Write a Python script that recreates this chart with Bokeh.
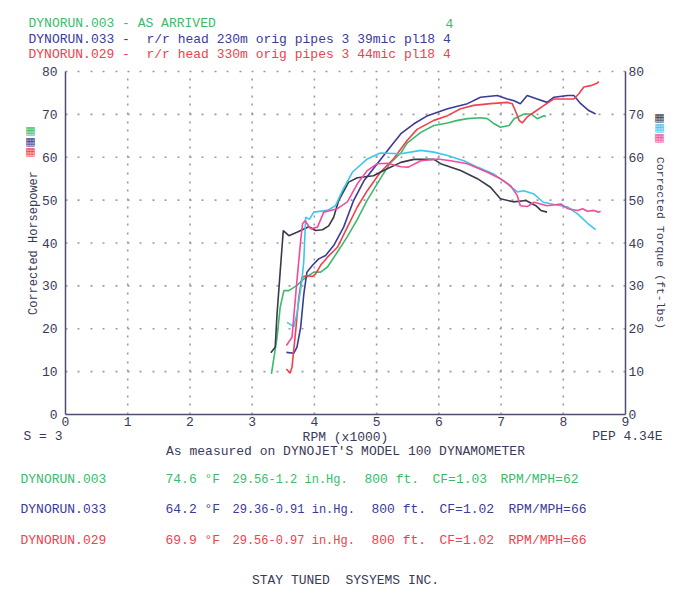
from bokeh.plotting import figure
from bokeh.models import Range1d, LinearAxis, FixedTicker, Label
from bokeh.embed import file_html
from bokeh.resources import INLINE

# ---------------- data (rpm x1000, value) ----------------
rpm_ticks = [0, 1, 2, 3, 4, 5, 6, 7, 8, 9]
val_ticks = [0, 10, 20, 30, 40, 50, 60, 70, 80]

# Horsepower curves
hp003_rpm = [3.31, 3.40, 3.45, 3.51, 3.59, 3.72, 3.83, 3.99, 4.10, 4.21, 4.37, 4.53, 4.69, 4.85,
             5.06, 5.22, 5.39, 5.49, 5.71, 5.92, 6.14, 6.30, 6.46, 6.67, 6.78, 6.89, 6.99, 7.13,
             7.21, 7.37, 7.48, 7.58, 7.69, 7.72]
hp003_val = [9.5, 18.0, 25.0, 28.9, 28.9, 30.1, 31.6, 33.2, 33.2, 34.4, 37.9, 41.5, 45.5, 50.0,
             55.0, 58.7, 61.0, 63.3, 65.8, 67.4, 68.0, 68.6, 69.0, 69.2, 69.0, 67.8, 67.0, 67.4,
             69.0, 70.1, 70.1, 69.0, 69.7, 69.5]

hp033_rpm = [3.55, 3.67, 3.72, 3.78, 3.83, 3.88, 3.97, 4.07, 4.18, 4.31, 4.47, 4.63, 4.80, 5.01,
             5.22, 5.39, 5.60, 5.82, 6.14, 6.46, 6.67, 6.94, 7.10, 7.21, 7.31, 7.42, 7.58, 7.74,
             7.85, 8.07, 8.17, 8.28, 8.41, 8.52]
hp033_val = [14.5, 14.3, 15.7, 20.4, 28.1, 33.2, 34.8, 36.3, 37.1, 39.4, 43.7, 49.9, 54.6, 58.5,
             62.4, 65.5, 67.8, 69.7, 71.3, 72.5, 74.0, 74.4, 73.6, 73.2, 72.5, 74.4, 73.6, 72.8,
             74.0, 74.4, 74.4, 72.5, 70.9, 70.1]

hp029_rpm = [3.55, 3.61, 3.64, 3.70, 3.75, 3.80, 3.88, 3.97, 4.02, 4.10, 4.21, 4.37, 4.53, 4.69,
             4.85, 5.06, 5.27, 5.49, 5.65, 5.92, 6.14, 6.35, 6.56, 6.83, 7.10, 7.18, 7.24, 7.29,
             7.34, 7.42, 7.53, 7.69, 7.85, 8.01, 8.17, 8.25, 8.33, 8.44, 8.55, 8.57]
hp029_val = [10.6, 9.6, 11.0, 19.6, 27.4, 32.0, 32.4, 32.2, 32.8, 34.8, 36.7, 39.0, 43.7, 48.4,
             52.2, 56.5, 59.6, 63.9, 66.5, 68.6, 69.7, 71.3, 72.1, 72.5, 72.8, 72.5, 70.5, 68.6,
             68.0, 69.4, 70.5, 72.1, 73.6, 73.6, 73.6, 74.8, 76.4, 76.7, 77.3, 77.7]

# Torque curves
tq003_rpm = [3.30, 3.37, 3.40, 3.46, 3.50, 3.59, 3.72, 3.91, 4.02, 4.13, 4.23, 4.31, 4.39, 4.55,
             4.69, 4.95, 5.17, 5.39, 5.60, 5.92, 6.03, 6.35, 6.62, 6.83, 6.99, 7.20, 7.40, 7.56,
             7.64, 7.74]
tq003_val = [14.4, 15.7, 23.5, 35.2, 42.9, 41.7, 42.5, 43.8, 42.9, 43.1, 44.0, 46.0, 49.9, 54.2,
             55.2, 55.7, 57.3, 58.8, 59.5, 59.5, 58.5, 56.9, 55.0, 53.0, 50.3, 49.6, 49.9, 48.7,
             47.6, 47.2]

tq033_rpm = [3.56, 3.67, 3.72, 3.80, 3.83, 3.86, 3.92, 3.99, 4.21, 4.34, 4.45, 4.61, 4.85, 5.06,
             5.39, 5.71, 5.92, 6.14, 6.40, 6.62, 6.88, 7.10, 7.26, 7.36, 7.52, 7.68, 7.85, 8.07,
             8.23, 8.39, 8.52]
tq033_val = [21.5, 20.5, 23.5, 31.3, 35.9, 46.0, 45.5, 47.2, 47.6, 48.7, 52.2, 56.5, 59.6, 61.0,
             60.8, 61.6, 61.2, 60.4, 59.2, 57.7, 56.1, 53.8, 51.9, 52.2, 51.5, 49.5, 49.0, 48.4,
             46.8, 44.6, 43.1]

tq029_rpm = [3.55, 3.64, 3.72, 3.78, 3.81, 3.85, 3.94, 4.05, 4.15, 4.37, 4.53, 4.69, 4.85, 5.01,
             5.17, 5.39, 5.51, 5.71, 5.98, 6.19, 6.46, 6.78, 6.99, 7.15, 7.26, 7.31, 7.42, 7.53,
             7.74, 7.96, 8.07, 8.23, 8.31, 8.39, 8.49, 8.57, 8.60]
tq029_val = [16.1, 18.0, 31.3, 40.6, 44.5, 45.2, 43.3, 43.7, 47.2, 48.0, 49.6, 53.8, 56.9, 58.5,
             58.6, 57.8, 57.7, 59.2, 59.6, 59.2, 58.5, 56.5, 55.0, 53.4, 51.1, 48.7, 48.5, 49.5,
             48.7, 49.1, 48.0, 47.6, 48.0, 47.4, 47.6, 47.2, 47.4]

# ---------------- styling ----------------
GREEN = "#3cba6c"
BLUE = "#3b3b98"
RED = "#f2404e"
DARK = "#3a3a4c"
CYAN = "#3cc6f0"
PINK = "#f04c9c"
INK = "#3a3a58"
AXIS = "#4e4e6e"
GRIDC = "#9a9aa8"
MONO = "Liberation Mono"

W, H = 683, 604
# pixel position of the plotting area inside the page
PL, PR, PT, PB = 65, 625, 71, 414
XMIN, XMAX = rpm_ticks[0], rpm_ticks[-1]
YMIN, YMAX = val_ticks[0], val_ticks[-1]
SX = (XMAX - XMIN) / (PR - PL)
SY = (YMAX - YMIN) / (PB - PT)
x_start, x_end = XMIN - PL * SX, XMAX + (W - PR) * SX
y_start, y_end = YMIN - (H - PB) * SY, YMAX + PT * SY

p = figure(width=W, height=H, x_range=Range1d(x_start, x_end), y_range=Range1d(y_start, y_end),
           x_axis_type=None, y_axis_type=None, output_backend="svg", toolbar_location=None,
           min_border=0)
p.extra_y_ranges = {"torque": Range1d(y_start, y_end)}
p.outline_line_color = None
p.background_fill_color = "white"
p.border_fill_color = "white"
p.xgrid.visible = False
p.ygrid.visible = False


def style_axis(ax, label_size="13px"):
    ax.axis_line_color = AXIS
    ax.axis_line_width = 1.5
    ax.major_tick_line_color = None
    ax.minor_tick_line_color = None
    ax.major_tick_out = 0
    ax.major_tick_in = 0
    ax.minor_tick_out = 0
    ax.minor_tick_in = 0
    ax.major_label_text_font = MONO
    ax.major_label_text_font_size = "13px"
    ax.major_label_text_color = INK
    ax.axis_label_text_font = MONO
    ax.axis_label_text_font_size = label_size
    ax.axis_label_text_font_style = "normal"
    ax.axis_label_text_color = INK


left_ax = LinearAxis(fixed_location=XMIN, bounds=(YMIN, YMAX), ticker=FixedTicker(ticks=val_ticks),
                     axis_label="Corrected Horsepower", major_label_standoff=8, axis_label_standoff=-2)
right_ax = LinearAxis(fixed_location=XMAX, bounds=(YMIN, YMAX), ticker=FixedTicker(ticks=val_ticks),
                      y_range_name="torque", axis_label="Corrected Torque (ft-lbs)",
                      major_label_standoff=3, axis_label_standoff=7)
bottom_ax = LinearAxis(fixed_location=YMIN, bounds=(XMIN, XMAX), ticker=FixedTicker(ticks=rpm_ticks),
                       axis_label="RPM (x1000)", major_label_standoff=2, axis_label_standoff=1)
style_axis(left_ax, "12px")
style_axis(right_ax, "11.5px")
style_axis(bottom_ax, "13px")
p.add_layout(left_ax, "left")
p.add_layout(right_ax, "right")
p.add_layout(bottom_ax, "below")

# dotted grid (vertical at each 1000 rpm, horizontal at each 10 units)
inner_rpm = rpm_ticks[1:-1]
p.segment(x0=inner_rpm, y0=[YMIN] * len(inner_rpm), x1=inner_rpm, y1=[YMAX] * len(inner_rpm),
          line_color=GRIDC, line_width=1.6, line_dash="2 7 2 6 2 7 2 6 2 7 2 6 2 7")
inner_val = val_ticks[1:]
p.segment(x0=[XMIN] * len(inner_val), y0=inner_val, x1=[XMAX] * len(inner_val), y1=inner_val,
          line_color=GRIDC, line_width=1.6, line_dash="2 10 2 11 2 10 2 11 2 10")

# curves
lw = 1.6
p.line(hp003_rpm, hp003_val, line_color=GREEN, line_width=lw)
p.line(hp033_rpm, hp033_val, line_color=BLUE, line_width=lw)
p.line(hp029_rpm, hp029_val, line_color=RED, line_width=lw)
p.line(tq003_rpm, tq003_val, line_color=DARK, line_width=lw, y_range_name="torque")
p.line(tq033_rpm, tq033_val, line_color=CYAN, line_width=lw, y_range_name="torque")
p.line(tq029_rpm, tq029_val, line_color=PINK, line_width=lw, y_range_name="torque")


# ---------------- text annotations (placed by page pixel) ----------------
def px2x(px):
    return x_start + px * SX


def py2y(py):
    return y_end - py * SY


def txt(s, px, py, color=INK, align="left", size="13px", font=MONO):
    p.add_layout(Label(x=px2x(px), y=py2y(py), text=s, text_color=color,
                       text_align=align, text_baseline="middle",
                       text_font=font, text_font_size=size))


# header
txt("DYNORUN.003 - AS ARRIVED", 28, 23, GREEN)
txt("4", 445, 23, GREEN)
txt("DYNORUN.033 -", 28, 39, BLUE)
txt("r/r head 230m orig pipes 3 39mic pl18 4", 146, 39, BLUE)
txt("DYNORUN.029 -", 28, 54, RED)
txt("r/r head 330m orig pipes 3 44mic pl18 4", 146, 54, RED)

# legend blocks
for py, c in [(130, GREEN), (141, BLUE), (151, RED)]:
    txt("\u25a6", 30, py, c, align="center", size="11px", font="DejaVu Sans")
for py, c in [(117, DARK), (127, CYAN), (137, PINK)]:
    txt("\u25a6", 659, py, c, align="center", size="11px", font="DejaVu Sans")

# under axis
txt("S = 3", 23, 436)
txt("PEP 4.34E", 662, 436, align="right")
txt("As measured on DYNOJET'S MODEL 100 DYNAMOMETER", 345, 451, align="center")

# run conditions
rows = [
    (479, GREEN, ["DYNORUN.003", "74.6 \u00b0F", "29.56-1.2 in.Hg.", "800 ft.", "CF=1.03", "RPM/MPH=62"],
     [20, 165, 232, 364, 432, 500]),
    (509, BLUE, ["DYNORUN.033", "64.2 \u00b0F", "29.36-0.91 in.Hg.", "800 ft.", "CF=1.02", "RPM/MPH=66"],
     [20, 165, 232, 371, 439, 508]),
    (540, RED, ["DYNORUN.029", "69.9 \u00b0F", "29.56-0.97 in.Hg.", "800 ft.", "CF=1.02", "RPM/MPH=66"],
     [20, 165, 232, 371, 439, 508]),
]
for py, c, fields, xs in rows:
    for i, (s, px) in enumerate(zip(fields, xs)):
        txt(s, px, py, c, size="12px" if i == 2 else "13px")

txt("STAY TUNED\u00a0 SYSYEMS INC.", 345, 580, align="center")

open("out.html", "w").write(file_html(p, INLINE))
